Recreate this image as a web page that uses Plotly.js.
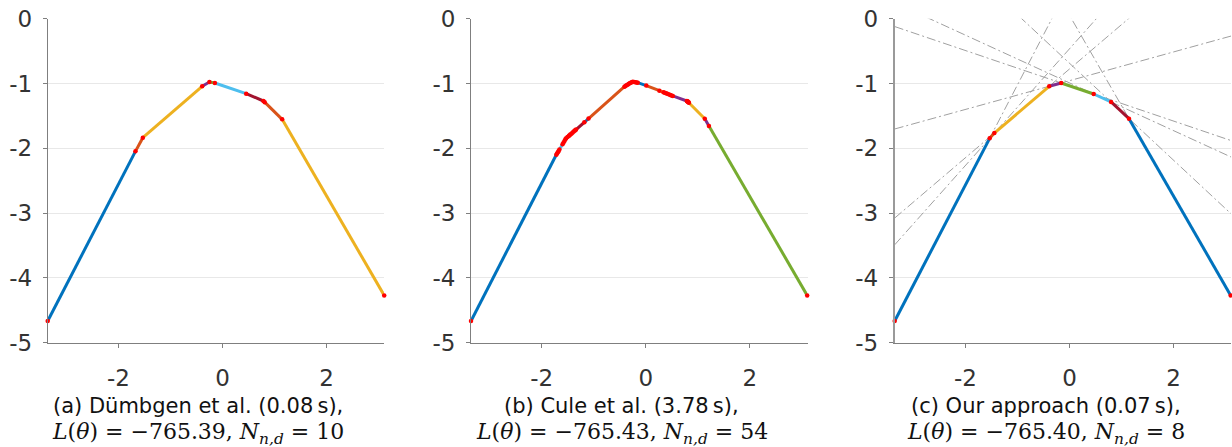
<!DOCTYPE html>
<html>
<head>
<meta charset="utf-8">
<script src="https://cdn.plot.ly/plotly-3.0.1.min.js"></script>
<style>html,body{margin:0;padding:0;background:#fff;}#chart{width:1232px;height:447px;}</style>
</head>
<body>
<div id="chart"></div>
<script>
// ---- data ----
const xTicks = [-2, 0, 2];
const xTickLabels = ["-2", "0", "2"];
const yTicks = [0, -1, -2, -3, -4, -5];
const yTickLabels = ["0", "-1", "-2", "-3", "-4", "-5"];

// (a) Dümbgen et al. knots
const aX = [-3.36, -1.673, -1.531, -0.39, -0.25, -0.146, 0.456, 0.788, 0.812, 1.148, 3.11];
const aY = [-4.665, -2.047, -1.836, -1.043, -0.977, -0.992, -1.157, -1.270, -1.288, -1.553, -4.27];

// (b) Cule et al. knots (54 pieces)
const bX = [-3.36, -1.720, -1.705, -1.690, -1.675, -1.660, -1.600, -1.580, -1.560, -1.545,
            -1.530, -1.505, -1.480, -1.465, -1.450, -1.430, -1.410, -1.390, -1.370, -1.355,
            -1.340, -1.180, -1.100, -0.410, -0.390, -0.370, -0.350, -0.330, -0.310, -0.290,
            -0.270, -0.250, -0.225, -0.200, -0.175, -0.154, 0.010, 0.263, 0.340, 0.365,
            0.390, 0.415, 0.440, 0.470, 0.495, 0.520, 0.790, 0.798, 0.806, 0.814,
            0.822, 0.830, 1.135, 1.215, 3.104];
const bY = [-4.665, -2.100, -2.080, -2.060, -2.040, -2.020, -1.938, -1.910, -1.882, -1.862,
            -1.845, -1.827, -1.810, -1.799, -1.788, -1.774, -1.760, -1.746, -1.731, -1.721,
            -1.710, -1.598, -1.541, -1.049, -1.038, -1.028, -1.018, -1.008, -0.998, -0.989,
            -0.980, -0.972, -0.975, -0.979, -0.983, -0.987, -1.032, -1.111, -1.135, -1.143,
            -1.151, -1.159, -1.167, -1.176, -1.184, -1.192, -1.270, -1.274, -1.279, -1.285,
            -1.291, -1.297, -1.545, -1.655, -4.27];

// (c) Our approach knots
const cX = [-3.36, -1.534, -1.444, -0.389, -0.159, 0.466, 0.80, 1.145, 3.10];
const cY = [-4.665, -1.846, -1.765, -1.043, -0.992, -1.162, -1.285, -1.543, -4.27];

const pieceColors = ["#0072BD", "#D95319", "#EDB120", "#7E2F8E", "#77AC30", "#4DBEEE", "#A2142F"];
const knotColor = "#FF0000";

const captions1 = ["(a) Dümbgen et al. (0.08\u2009s),", "(b) Cule et al. (3.78\u2009s),", "(c) Our approach (0.07\u2009s),"];
const captions2 = [
  "<i>L</i>(<i>θ</i>) = −765.39, <i>N</i><sub><i>n,d</i></sub> = 10",
  "<i>L</i>(<i>θ</i>) = −765.43, <i>N</i><sub><i>n,d</i></sub> = 54",
  "<i>L</i>(<i>θ</i>) = −765.40, <i>N</i><sub><i>n,d</i></sub> = 8"
];

// ---- build ----
const xRange = [-3.36, 3.11];
const yRange = [-5, 0];
const panels = [[aX, aY], [bX, bY], [cX, cY]];
const traces = [];

panels.forEach((p, k) => {
  const xs = p[0], ys = p[1];
  const xa = k === 0 ? "x" : "x" + (k + 1);
  const ya = k === 0 ? "y" : "y" + (k + 1);
  if (k === 2) {
    // extended supporting lines of every piece
    for (let i = 0; i < xs.length - 1; i++) {
      const m = (ys[i + 1] - ys[i]) / (xs[i + 1] - xs[i]);
      const ex = [xRange[0], xRange[1]];
      const ey = ex.map(v => ys[i] + m * (v - xs[i]));
      traces.push({x: ex, y: ey, xaxis: xa, yaxis: ya, mode: "lines",
        line: {color: "#a0a0a0", width: 1, dash: "9px,3px,2px,3px"}, hoverinfo: "skip", showlegend: false});
    }
  }
  for (let i = 0; i < xs.length - 1; i++) {
    traces.push({x: [xs[i], xs[i + 1]], y: [ys[i], ys[i + 1]], xaxis: xa, yaxis: ya, mode: "lines",
      line: {color: pieceColors[i % pieceColors.length], width: 3}, hoverinfo: "skip", showlegend: false});
  }
  traces.push({x: xs, y: ys, xaxis: xa, yaxis: ya, mode: "markers", cliponaxis: false,
    marker: {color: knotColor, size: 4.5}, hoverinfo: "skip", showlegend: false});
});

const W = 1232, H = 447;
const plotLeft = [47.7, 471, 894.7];
const plotWidth = 336.5;
const plotTop = 18.7, plotBottom = 342.7;
const capCenter = [197.5, 621.7, 1046];

const layout = {
  width: W, height: H,
  margin: {l: 0, r: 0, t: 0, b: 0},
  paper_bgcolor: "#fff", plot_bgcolor: "#fff",
  showlegend: false,
  font: {family: "DejaVu Sans", color: "#333"},
  annotations: []
};

for (let k = 0; k < 3; k++) {
  const sx = k === 0 ? "" : String(k + 1);
  layout["xaxis" + sx] = {
    domain: [plotLeft[k] / W, (plotLeft[k] + plotWidth) / W],
    range: xRange, anchor: "y" + sx,
    tickvals: xTicks, ticktext: xTickLabels,
    showgrid: false, zeroline: false,
    showline: true, linecolor: "#7f7f7f", linewidth: 1,
    ticks: "outside", ticklen: 4, tickcolor: "#7f7f7f", tickwidth: 1,
    ticklabelstandoff: 11,
    tickfont: {family: "DejaVu Sans", size: 23, color: "#333"},
    fixedrange: true
  };
  layout["yaxis" + sx] = {
    domain: [1 - plotBottom / H, 1 - plotTop / H],
    range: yRange, anchor: "x" + sx,
    tickvals: yTicks, ticktext: yTickLabels,
    showgrid: true, gridcolor: "#e8e8e8", gridwidth: 1, zeroline: false,
    showline: true, linecolor: k === 2 ? "#9a9a9a" : "#7f7f7f", linewidth: k === 2 ? 2 : 1,
    ticks: "outside", ticklen: 4, tickcolor: "#7f7f7f", tickwidth: 1,
    ticklabelstandoff: 6,
    tickfont: {family: "DejaVu Sans", size: 23, color: "#333"},
    fixedrange: true
  };
  layout.annotations.push({
    xref: "paper", yref: "paper", x: capCenter[k] / W, y: 1 - 405.5 / H,
    xanchor: "center", yanchor: "middle", showarrow: false,
    text: captions1[k], font: {family: "DejaVu Sans", size: 21, color: "#111"}
  });
  layout.annotations.push({
    xref: "paper", yref: "paper", x: capCenter[k] / W, y: 1 - 433 / H,
    xanchor: "center", yanchor: "middle", showarrow: false,
    text: captions2[k], font: {family: "DejaVu Serif", size: 22, color: "#111"}
  });
}

Plotly.newPlot("chart", traces, layout, {staticPlot: true, displayModeBar: false});
</script>
</body>
</html>
